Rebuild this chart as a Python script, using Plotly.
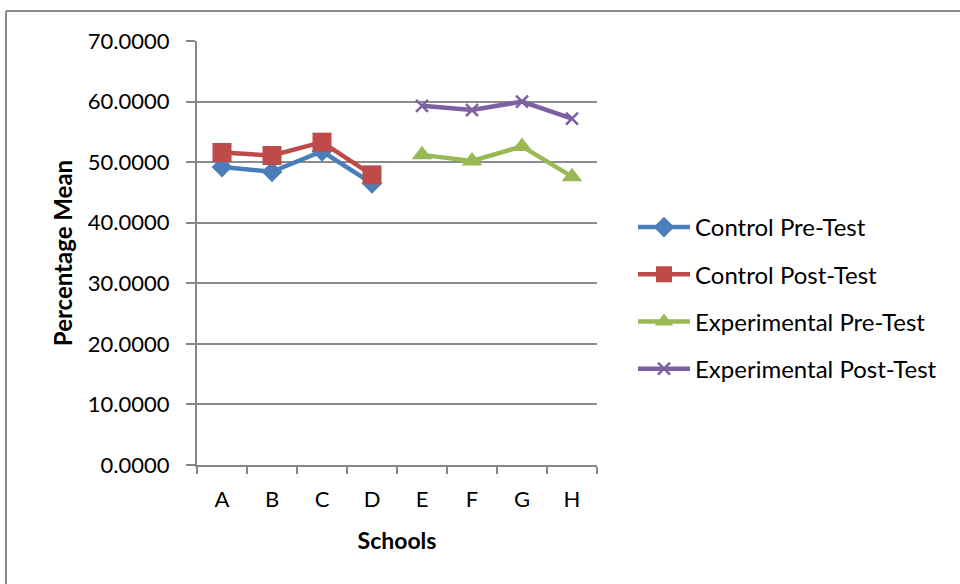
import plotly.graph_objects as go

schools = ["A", "B", "C", "D", "E", "F", "G", "H"]
control_pre = [49.2, 48.4, 51.8, 46.5, None, None, None, None]
control_post = [51.6, 51.1, 53.3, 47.9, None, None, None, None]
exp_pre = [None, None, None, None, 51.2, 50.2, 52.6, 47.6]
exp_post = [None, None, None, None, 59.3, 58.6, 60.0, 57.2]

series = [
    ("Control Pre-Test", control_pre, "#4A7EBB", "diamond", 16),
    ("Control Post-Test", control_post, "#BE4B48", "square", 19),
    ("Experimental Pre-Test", exp_pre, "#98B954", "triangle-up", 18),
    ("Experimental Post-Test", exp_post, "#7D60A0", "x-thin", 12),
]

fig = go.Figure()
for name, vals, color, sym, size in series:
    fig.add_trace(go.Scatter(
        x=schools, y=vals, name=name, legendgroup=name, mode="lines+markers",
        line=dict(color=color, width=4.5),
        marker=dict(symbol=sym, size=size, color=color,
                    line=dict(color=color, width=2.5 if sym == "x-thin" else 0)),
        connectgaps=False,
    ))

font_family = "Lato, 'Open Sans', sans-serif"
W, H = 960, 584
L, R, T, B = 197, 363, 41, 119
pw, ph = W - L - R, H - T - B

def px_x(x):
    return (x - L) / pw

def px_y(y):
    return (H - B - y) / ph

border = "#8C8C8C"
fig.add_shape(type="line", xref="paper", yref="paper",
              x0=px_x(6), x1=px_x(970), y0=px_y(11), y1=px_y(11),
              line=dict(color=border, width=2))
fig.add_shape(type="line", xref="paper", yref="paper",
              x0=px_x(6), x1=px_x(6), y0=px_y(11), y1=px_y(600),
              line=dict(color=border, width=2))

axis_grey = "#868686"
fig.update_layout(
    width=W, height=H,
    margin=dict(l=L, r=R, t=T, b=B, pad=0),
    paper_bgcolor="white", plot_bgcolor="white",
    font=dict(family=font_family, size=22, color="#000000"),
    xaxis=dict(
        type="category", range=[-0.5, len(schools) - 0.5],
        tickson="boundaries", ticks="outside", ticklen=7,
        tickcolor=axis_grey, tickwidth=2, showline=True, linecolor=axis_grey,
        linewidth=2, showgrid=False, tickfont=dict(size=22),
        ticklabelstandoff=14,
        title=dict(text="<b>Schools</b>", font=dict(size=23), standoff=21),
    ),
    yaxis=dict(
        range=[0, 70], dtick=10, tickformat=".4f", ticks="outside", ticklen=9,
        tickcolor=axis_grey, tickwidth=2, showline=True, linecolor=axis_grey,
        linewidth=2, showgrid=True, gridcolor="#8C8C8C", gridwidth=2,
        zeroline=False, tickfont=dict(size=22), ticklabelstandoff=12,
        title=dict(text="<b>Percentage Mean</b>", font=dict(size=24), standoff=8),
    ),
    legend=dict(
        x=px_x(633), y=px_y(205), xanchor="left", yanchor="top",
        font=dict(size=24), tracegroupgap=13, itemwidth=52,
        bgcolor="rgba(0,0,0,0)",
    ),
    showlegend=True,
)

fig.write_html("out.html")
